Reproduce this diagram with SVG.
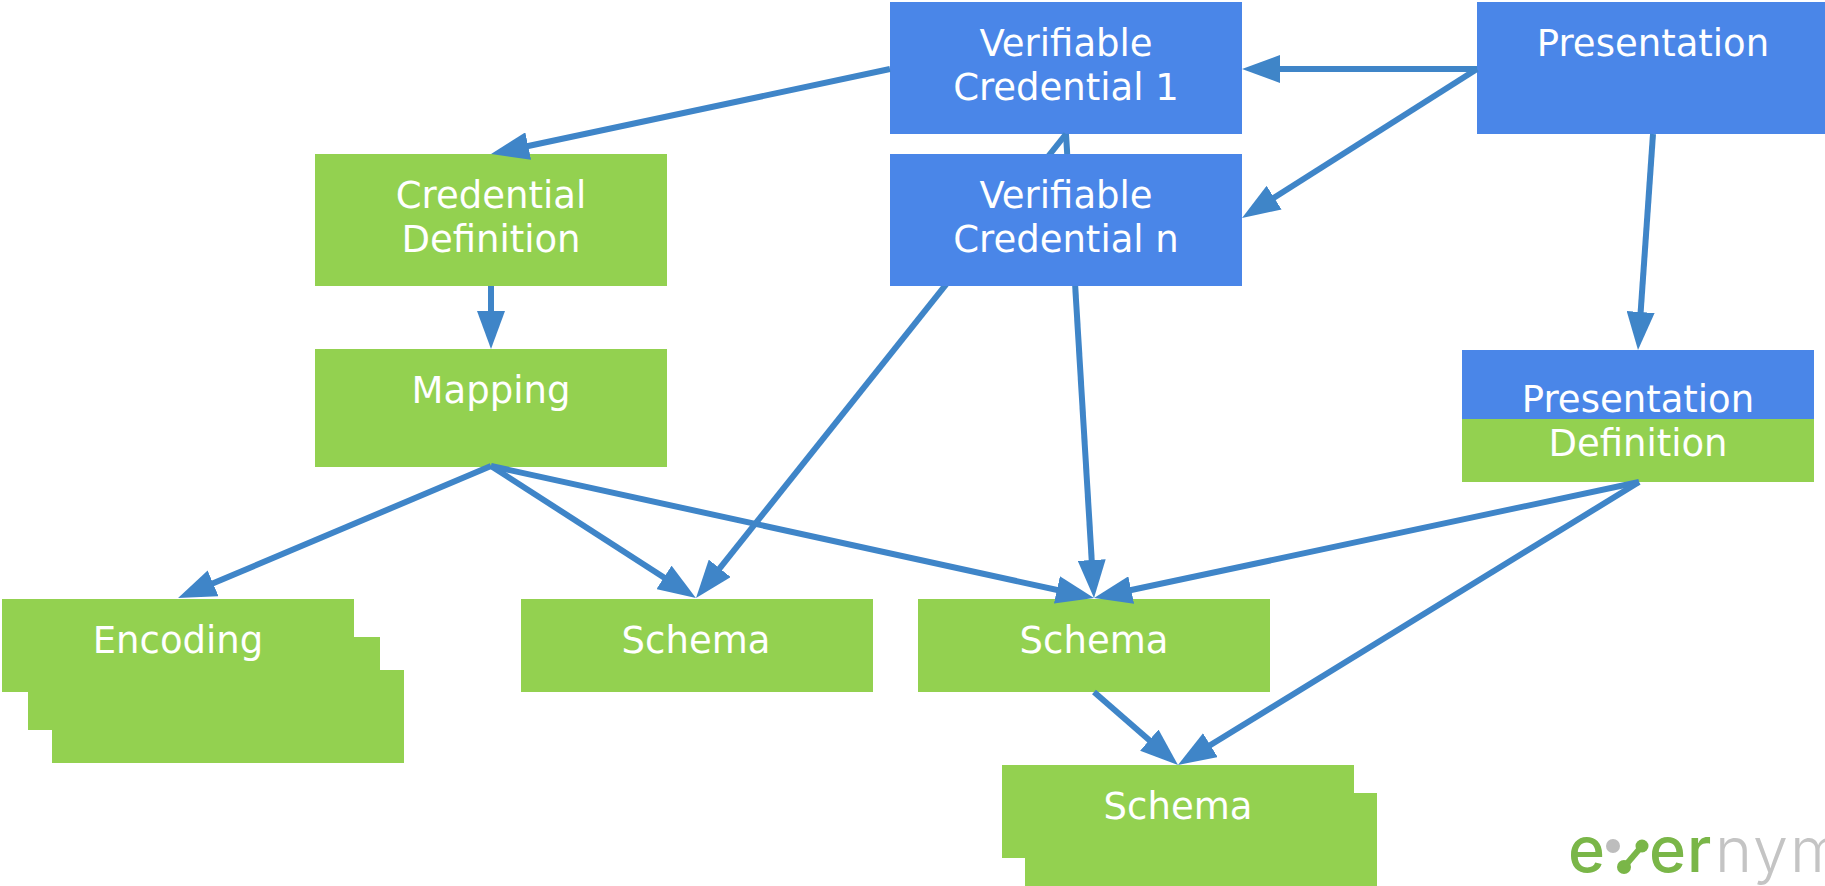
<svg xmlns="http://www.w3.org/2000/svg" width="1825" height="886" viewBox="0 0 1825 886">
<style>
.b{fill:#4a86e8}.g{fill:#93d150}
.t{font-family:"DejaVu Sans",Verdana,sans-serif;font-size:37px;fill:#fff;text-anchor:middle}
.c line{stroke:#3f85c8;stroke-width:6;marker-end:url(#a)}
.lg{font-family:Inter,"Open Sans",sans-serif;font-size:63px}
</style>
<defs><marker id="a" markerUnits="userSpaceOnUse" markerWidth="38" markerHeight="28" refX="18" refY="14" orient="auto"><path d="M0,0L38,14L0,28z" fill="#3f85c8"/></marker></defs>
<rect width="1825" height="886" fill="#fff"/>
<g id="vc1"><rect class="b" x="890" y="2" width="352" height="132"/><text class="t" x="1066" y="56">Verifiable</text><text class="t" x="1066" y="100">Credential 1</text></g>
<g id="presentation"><rect class="b" x="1477" y="2" width="352" height="132"/><text class="t" x="1653" y="56">Presentation</text></g>
<g id="creddef"><rect class="g" x="315" y="154" width="352" height="132"/><text class="t" x="491" y="208">Credential</text><text class="t" x="491" y="252">Definition</text></g>
<g id="mapping"><rect class="g" x="315" y="349" width="352" height="118"/><text class="t" x="491" y="403">Mapping</text></g>
<g id="presdef"><rect class="g" x="1462" y="350" width="352" height="132"/><rect class="b" x="1462" y="350" width="352" height="69"/><text class="t" x="1638" y="412">Presentation</text><text class="t" x="1638" y="456">Definition</text></g>
<g id="encoding"><rect class="g" x="52" y="670" width="352" height="93"/><rect class="g" x="28" y="637" width="352" height="93"/><rect class="g" x="2" y="599" width="352" height="93"/><text class="t" x="178" y="653">Encoding</text></g>
<g id="schema1"><rect class="g" x="521" y="599" width="352" height="93"/><text class="t" x="696" y="653">Schema</text></g>
<g id="schema2"><rect class="g" x="918" y="599" width="352" height="93"/><text class="t" x="1094" y="653">Schema</text></g>
<g id="schema3"><rect class="g" x="1025" y="793" width="352" height="93"/><rect class="g" x="1002" y="765" width="352" height="93"/><text class="t" x="1178" y="819">Schema</text></g>
<g id="connectors" class="c">
<line x1="890" y1="69" x2="510.6" y2="149.8"/>
<line x1="1477" y1="69" x2="1262" y2="69"/>
<line x1="1477" y1="69" x2="1258.9" y2="207.3"/>
<line x1="1653" y1="134" x2="1639.4" y2="330"/>
<line x1="491" y1="286" x2="491" y2="329"/>
<line x1="491" y1="466" x2="196.5" y2="590.3"/>
<line x1="491" y1="466" x2="679.1" y2="587.2"/>
<line x1="491" y1="466" x2="1074.5" y2="593.8"/>
<line x1="1066" y1="134" x2="708.5" y2="582.4"/>
<line x1="1066" y1="134" x2="1092.8" y2="578"/>
<line x1="1639" y1="482" x2="1113.6" y2="593.8"/>
<line x1="1639" y1="482" x2="1195" y2="754.5"/>
<line x1="1094" y1="692" x2="1162.9" y2="751.9"/>
</g>
<g id="vcn"><rect class="b" x="890" y="154" width="352" height="132"/><text class="t" x="1066" y="208">Verifiable</text><text class="t" x="1066" y="252">Credential n</text></g>
<g id="logo">
<text class="lg" x="1568" y="872" fill="#7ab648" font-weight="500">e</text>
<circle cx="1613" cy="846" r="7" fill="#bdbdbd"/>
<circle cx="1642" cy="846" r="6.5" fill="#7ab648"/><circle cx="1624" cy="867" r="7" fill="#7ab648"/>
<line x1="1642" y1="846" x2="1624" y2="867" stroke="#7ab648" stroke-width="6"/>
<text class="lg" x="1649" y="872" fill="#7ab648" font-weight="500" letter-spacing="1">er</text>
<text class="lg" x="1715" y="872" fill="#c4c4c4" font-weight="300" letter-spacing="2">nym</text>
</g>
</svg>
